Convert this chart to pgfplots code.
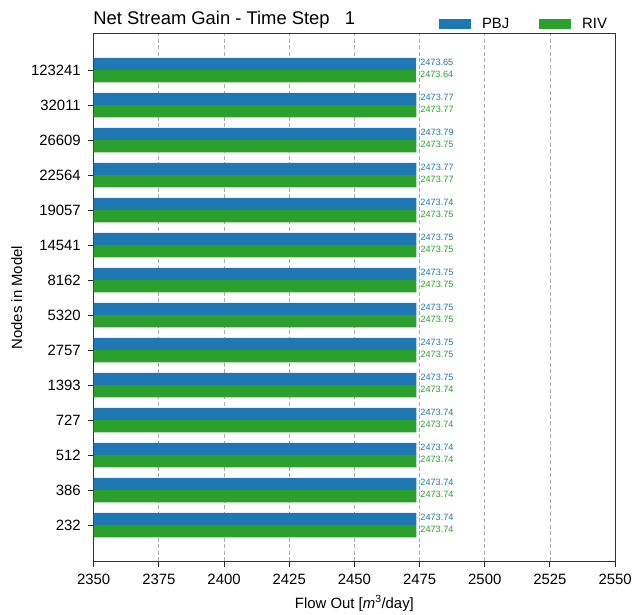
\documentclass[border=0pt]{standalone}
\usepackage{fontspec}
\setmainfont{Liberation Sans}
\usepackage{pgfplots}
\pgfplotsset{compat=1.18}
\definecolor{pbj}{HTML}{1F77B4}
\definecolor{riv}{HTML}{2CA02C}
\definecolor{axisgray}{HTML}{333333}
% wide rectangular legend patch
\pgfplotsset{patch legend/.style={legend image code/.code={\fill[##1] (0bp,-5bp) rectangle (32bp,5bp);}}}

\begin{document}
\begin{tikzpicture}
% page canvas
\path (0bp,0bp) rectangle (635bp,615bp);
\begin{axis}[
  name=ax,
  at={(94bp,52bp)}, anchor=south west,
  width=523bp, height=529bp, scale only axis,
  xbar, bar width=0.35,
  xmin=2350, xmax=2550,
  ymin=-1.035, ymax=14.035,
  xtick={2350,2375,...,2550},
  ytick={0,...,13},
  yticklabels={232,386,512,727,1393,2757,5320,8162,14541,19057,22564,26609,32011,123241},
  xtick pos=bottom, ytick pos=left,
  xtick align=outside, ytick align=outside,
  xmajorgrids,
  major grid style={color=black!32, dash pattern=on 4bp off 2.5bp, line width=0.8bp},
  axis line style={axisgray, line width=1bp},
  every tick/.style={black!85, line width=1.1bp},
  major tick length=5.5bp,
  /pgf/number format/assume math mode=true,
  /pgf/number format/1000 sep={},
  ticklabel style={font=\fontsize{15}{17}\selectfont},
  xticklabel style={yshift=-4bp},
  yticklabel style={xshift=-4bp},
  xlabel={Flow Out [\textit{m}\textsuperscript{3}/day]},
  ylabel={Nodes in Model},
  label style={font=\fontsize{15}{17}\selectfont},
  xlabel style={yshift=-4bp},
  ylabel style={yshift=2bp},
  point meta=explicit symbolic,
  nodes near coords,
  nodes near coords style={font=\fontsize{9.2}{10}\selectfont, anchor=west, inner xsep=4bp, inner ysep=1bp, yshift=1.5bp},
  legend columns=2,
  legend style={at={(1,1)}, anchor=east, xshift=-3bp, yshift=10bp,
    draw=none, fill=none, font=\fontsize{15}{17}\selectfont,
    /tikz/every odd column/.append style={column sep=9bp},
    /tikz/every even column/.append style={column sep=28bp}},
]
\addplot[xbar, fill=pbj, draw=none, bar shift=0.175,
  every node near coord/.append style={text=pbj}, patch legend]
  coordinates {
  (2473.74,0)[2473.74] (2473.74,1)[2473.74] (2473.74,2)[2473.74]
  (2473.74,3)[2473.74] (2473.75,4)[2473.75] (2473.75,5)[2473.75]
  (2473.75,6)[2473.75] (2473.75,7)[2473.75] (2473.75,8)[2473.75]
  (2473.74,9)[2473.74] (2473.77,10)[2473.77] (2473.79,11)[2473.79]
  (2473.77,12)[2473.77] (2473.65,13)[2473.65]
  };
\addlegendentry{PBJ}
\addplot[xbar, fill=riv, draw=none, bar shift=-0.175,
  every node near coord/.append style={text=riv}, patch legend]
  coordinates {
  (2473.74,0)[2473.74] (2473.74,1)[2473.74] (2473.74,2)[2473.74]
  (2473.74,3)[2473.74] (2473.74,4)[2473.74] (2473.75,5)[2473.75]
  (2473.75,6)[2473.75] (2473.75,7)[2473.75] (2473.75,8)[2473.75]
  (2473.75,9)[2473.75] (2473.77,10)[2473.77] (2473.75,11)[2473.75]
  (2473.77,12)[2473.77] (2473.64,13)[2473.64]
  };
\addlegendentry{RIV}
\end{axis}
\node[anchor=base west, inner sep=0pt, font=\fontsize{18.5}{21}\selectfont]
  at ([xshift=-0.5bp, yshift=9bp]ax.north west) {Net Stream Gain - Time Step\ \ \ 1};
\end{tikzpicture}
\end{document}
